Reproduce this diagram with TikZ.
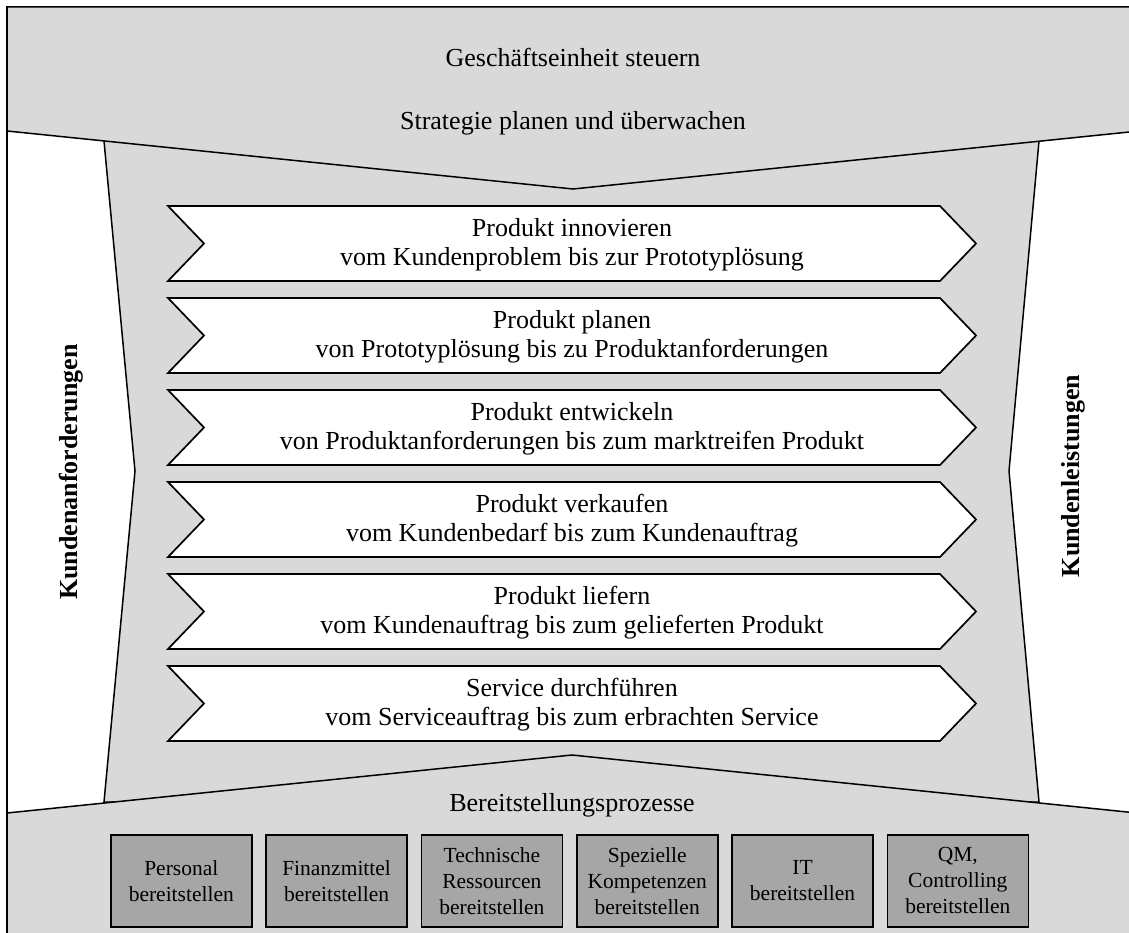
\documentclass[tikz,border=0pt]{standalone}
\usepackage{fontspec}
\setmainfont{Liberation Serif}
\definecolor{bandgray}{HTML}{D9D9D9}
\definecolor{boxgray}{HTML}{A6A6A6}
\begin{document}
\begin{tikzpicture}[x=1pt,y=-1pt,
  outline/.style={draw=black, line width=1.5pt, line join=miter},
  band/.style={outline, fill=bandgray},
  chevron/.style={outline, fill=white, line width=1.7pt},
  txt/.style={font=\fontsize{26}{29}\selectfont, align=center, inner sep=0pt},
  sidelabel/.style={font=\fontsize{26}{29}\selectfont\bfseries, rotate=90, inner sep=0pt},
  resbox/.style={draw=black, line width=1.6pt, fill=boxgray,
    minimum width=141pt, minimum height=92pt, anchor=north west,
    align=center, font=\fontsize{21.5}{26}\selectfont, inner sep=0pt},
]
\useasboundingbox (0,0) rectangle (1129,933);
\clip (0,0) rectangle (1129,933);

% outer frame
\draw[outline, fill=white] (7,7) rectangle (1139,950);

% core process area between the bands
\draw[band] (104,141) -- (1039,141) -- (1009,471) -- (1039,802)
  -- (104,802) -- (135,471) -- cycle;

% management band (top)
\draw[band] (7,7) -- (1139,7) -- (1139,131) -- (573,189) -- (7,131) -- cycle;
\node[txt, anchor=base] (mgmt) at (573,67) {Geschäftseinheit steuern};
\node[txt, anchor=base] (strat) at (573,130) {Strategie planen und überwachen};

% support band (bottom)
\draw[band] (7,813) -- (572,755) -- (1137,813) -- (1139,950) -- (7,950) -- cycle;
\node[txt, anchor=base] (support) at (572,811) {Bereitstellungsprozesse};

% core process chevrons
\foreach \i/\a/\b in {
  0/{Produkt innovieren}/{vom Kundenproblem bis zur Prototyplösung},
  1/{Produkt planen}/{von Prototyplösung bis zu Produktanforderungen},
  2/{Produkt entwickeln}/{von Produktanforderungen bis zum marktreifen Produkt},
  3/{Produkt verkaufen}/{vom Kundenbedarf bis zum Kundenauftrag},
  4/{Produkt liefern}/{vom Kundenauftrag bis zum gelieferten Produkt},
  5/{Service durchführen}/{vom Serviceauftrag bis zum erbrachten Service}} {
  \pgfmathsetmacro\yt{206+92*\i}
  \pgfmathsetmacro\ym{\yt+37.5}
  \pgfmathsetmacro\yb{\yt+75}
  \draw[chevron] (168,\yt) -- (940,\yt) -- (976,\ym) -- (940,\yb)
    -- (168,\yb) -- (204,\ym) -- cycle;
  \node[txt] (core\i) at (572,\ym+1.5) {\a\\\b};
}

% side labels
\node[sidelabel] (req) at (71,472) {Kundenanforderungen};
\node[sidelabel] (out) at (1073,476) {Kundenleistungen};

% resource boxes
\foreach \i/\t in {
  0/{Personal\\bereitstellen},
  1/{Finanzmittel\\bereitstellen},
  2/{Technische\\Ressourcen\\bereitstellen},
  3/{Spezielle\\Kompetenzen\\bereitstellen},
  4/{IT\\bereitstellen},
  5/{QM,\\Controlling\\bereitstellen}} {
  \node[resbox] (res\i) at (110+155.3*\i,834) {\t};
}
\end{tikzpicture}
\end{document}
